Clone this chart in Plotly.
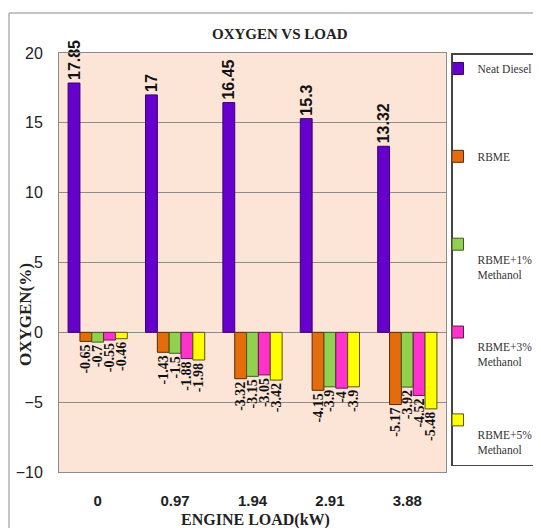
import plotly.graph_objects as go

loads = ["0", "0.97", "1.94", "2.91", "3.88"]
neat_diesel = [17.85, 17, 16.45, 15.3, 13.32]
rbme = [-0.65, -1.43, -3.32, -4.15, -5.17]
rbme_1 = [-0.7, -1.5, -3.15, -3.9, -3.92]
rbme_3 = [-0.55, -1.88, -3.05, -4, -4.52]
rbme_5 = [-0.46, -1.98, -3.42, -3.9, -5.48]

series = [
    ("Neat Diesel<br>&nbsp;<br>&nbsp;", neat_diesel, "#6600CC", "#3a0070"),
    ("RBME<br>&nbsp;<br>&nbsp;", rbme, "#E46C0A", "#5a2a05"),
    ("&nbsp;<br>RBME+1%<br>Methanol", rbme_1, "#92D050", "#3d5a20"),
    ("&nbsp;<br>RBME+3%<br>Methanol", rbme_3, "#FF33CC", "#6a1555"),
    ("&nbsp;<br>RBME+5%<br>Methanol", rbme_5, "#FFFF00", "#555500"),
]

# page has an 8px body margin; figure sized to fit the window
W, H = 533, 520
L, T = 51, 45
PW, PH = 387, 419
R, B = W - L - PW, H - T - PH

def px(xpage):
    return (xpage - 8 - L) / PW

def py(ypage):
    return (T + PH - (ypage - 8)) / PH

fig = go.Figure()
for i, (name, vals, col, edge) in enumerate(series):
    pos = i == 0
    fig.add_trace(go.Bar(
        x=loads, y=vals, name=name,
        marker=dict(color=col, line=dict(color=edge, width=1)),
        text=[str(v) for v in vals],
        textposition="outside",
        textangle=-90,
        constraintext="none",
        cliponaxis=False,
        textfont=dict(
            family="Liberation Sans, Arial, sans-serif" if pos else "Liberation Serif, Times New Roman, serif",
            size=16 if pos else 14,
            color="#111",
            weight="bold",
        ),
        legendgroup=f"g{i}",
    ))

fig.update_layout(
    width=W, height=H,
    margin=dict(l=L, r=R, t=T, b=B, autoexpand=False),
    paper_bgcolor="white",
    plot_bgcolor="#FCE4D6",
    barmode="group",
    bargap=0.235,
    bargroupgap=0,
    showlegend=True,
    legend=dict(
        xref="paper", yref="paper",
        x=px(451), xanchor="left",
        y=py(53), yanchor="top",
        bordercolor="#444", borderwidth=1.5,
        bgcolor="white",
        font=dict(family="Liberation Serif, Times New Roman, serif", size=11.5, color="#333"),
        traceorder="grouped",
        tracegroupgap=40,
        valign="top",
        itemwidth=30,
        indentation=-15,
        maxheight=1000,
    ),
    font=dict(family="Liberation Sans Narrow, Arial Narrow, Liberation Sans, sans-serif", color="#222"),
    xaxis=dict(
        showgrid=False,
        showline=True, linecolor="#8c8c8c", mirror=True,
        tickfont=dict(size=15, family="Liberation Sans Narrow, Arial Narrow, sans-serif", color="#222", weight="bold"),
        ticks="", ticklabelstandoff=15,
    ),
    yaxis=dict(
        range=[-10, 20], dtick=5,
        showgrid=True, gridcolor="#8c8c8c", gridwidth=1,
        zeroline=True, zerolinecolor="#8c8c8c", zerolinewidth=1,
        showline=True, linecolor="#8c8c8c", mirror=True,
        tickfont=dict(size=16, family="Liberation Sans Narrow, Arial Narrow, sans-serif", color="#222"),
        ticks="", ticklabelstandoff=12,
    ),
    annotations=[
        dict(text="OXYGEN VS LOAD", xref="paper", yref="paper", x=px(280), y=py(34),
             xanchor="center", yanchor="middle",
             showarrow=False, font=dict(family="Liberation Serif, Times New Roman, serif", size=15, color="#222", weight="bold")),
        dict(text="ENGINE LOAD(kW)", xref="paper", yref="paper", x=px(255), y=py(520),
             xanchor="center", yanchor="middle",
             showarrow=False, font=dict(family="Liberation Serif, Times New Roman, serif", size=16, color="#222", weight="bold")),
        dict(text="OXYGEN(%)", xref="paper", yref="paper", x=px(25), y=py(315),
             xanchor="center", yanchor="middle",
             textangle=-90, showarrow=False,
             font=dict(family="Liberation Serif, Times New Roman, serif", size=17, color="#222", weight="bold")),
    ],
    shapes=[
        dict(type="line", xref="paper", yref="paper", x0=px(9), x1=px(545),
             y0=py(13), y1=py(13), line=dict(color="#b0b0b0", width=1.5)),
        dict(type="line", xref="paper", yref="paper", x0=px(9), x1=px(9),
             y0=py(13), y1=py(545), line=dict(color="#b0b0b0", width=1.5)),
    ],
)

fig.write_html("out.html")
